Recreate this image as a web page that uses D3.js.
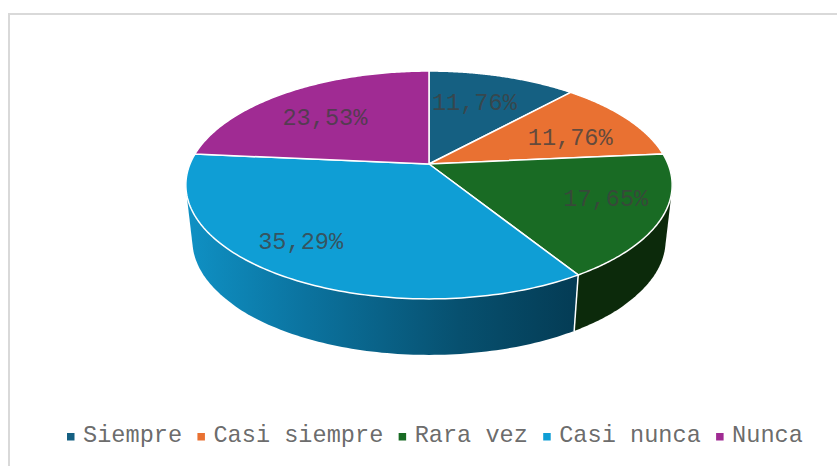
<!DOCTYPE html>
<html>
<head>
<meta charset="utf-8">
<script src="https://cdn.jsdelivr.net/npm/d3@7/dist/d3.min.js"></script>
<style>html,body{margin:0;padding:0;background:#fff;overflow:hidden}svg{display:block}</style>
</head>
<body>
<svg id="chart" width="837" height="466"></svg>
<script>
const categories = ["Siempre", "Casi siempre", "Rara vez", "Casi nunca", "Nunca"];
const values = [11.76, 11.76, 17.65, 35.29, 23.53];
const colors = ["#156082", "#E97132", "#196B24", "#0F9ED5", "#A02B93"];
const wallColors = [null, null, "#0C2A0B", "url(#wallBlue)", null];

const W = 837, H = 466;
const FONT = "'Liberation Mono','Courier New',monospace";
const svg = d3.select("#chart");

svg.append("rect").attr("x", 9).attr("y", 14).attr("width", W + 20).attr("height", H + 20)
  .attr("fill", "#fff").attr("stroke", "#D9D9D9").attr("stroke-width", 2);

const defs = svg.append("defs");
const grad = defs.append("linearGradient").attr("id", "wallBlue")
  .attr("gradientUnits", "userSpaceOnUse").attr("x1", 190).attr("x2", 575).attr("y1", 0).attr("y2", 0);
[[0, "#0F90C3"], [0.3, "#0B739F"], [0.7, "#07506F"], [1, "#043C55"]].forEach(([o, c]) =>
  grad.append("stop").attr("offset", o).attr("stop-color", c));

// Perspective disc projection
const cx = 429, cy = 164, C = 239, B = 79.9, k = 0.184, depth = 55.5, shrink = 0.973;
function project(a, r) {
  const u = r * Math.sin(a), v = -r * Math.cos(a), w = 1 - k * v;
  return [cx + C * u / w, (cy + B * v) / w];
}
function lower(p) { return [cx + (p[0] - cx) * shrink, p[1] + depth + (p[1] > 250 ? 0.5 : 0)]; }
const rim = (a0, a1) => d3.range(0, 121).map(i => project(a0 + (a1 - a0) * i / 120, 1));
const line = d3.line().curve(d3.curveLinear);

const arcs = d3.pie().sort(null).value(d => d)(values);

// Side walls: hull of the swept rim, the upper part is hidden by the top face
svg.append("g").selectAll("path").data(arcs.filter(d => wallColors[d.index])).join("path")
  .attr("d", d => {
    const top = rim(d.startAngle, d.endAngle);
    return line(d3.polygonHull(top.concat(top.map(lower)))) + "Z";
  })
  .attr("fill", d => wallColors[d.index]);

// White wall separator
const sep = project(arcs[2].endAngle, 1);
svg.append("path").attr("d", line([sep, lower(sep)]))
  .attr("stroke", "#fff").attr("stroke-width", 1.5).attr("fill", "none");

// Top face
svg.append("g").selectAll("path").data(arcs).join("path")
  .attr("d", d => line([[cx, cy]].concat(rim(d.startAngle, d.endAngle))) + "Z")
  .attr("fill", d => colors[d.index])
  .attr("stroke", "#fff").attr("stroke-width", 1.5).attr("stroke-linejoin", "round");

// Data labels
const fmt = d3.formatLocale({decimal: ",", thousands: ".", grouping: [3], currency: ["", ""]}).format(".2f");
const labelNudge = [[-3, -4.5], [15, 2], [37, 2], [-42, 13], [-12, 0]];
svg.append("g").selectAll("text").data(arcs).join("text")
  .attr("transform", d => {
    const p = project((d.startAngle + d.endAngle) / 2, 0.62), n = labelNudge[d.index];
    return `translate(${p[0] + n[0]},${p[1] + n[1] + 8})`;
  })
  .attr("text-anchor", "middle")
  .attr("font-family", FONT).attr("font-size", 23.6)
  .attr("fill", "#404040").attr("fill-opacity", 0.8)
  .text(d => fmt(d.data) + "%");

// Legend
const legend = svg.append("g");
let lx = 67;
categories.forEach((c, i) => {
  legend.append("rect").attr("x", lx).attr("y", 433).attr("width", 7.5).attr("height", 7.5).attr("fill", colors[i]);
  const t = legend.append("text").attr("x", lx + 16).attr("y", 442)
    .attr("font-family", FONT).attr("font-size", 23.6).attr("fill", "#595959").attr("fill-opacity", 0.9).text(c);
  lx += 16 + t.node().getComputedTextLength() + 15.3;
});
</script>
</body>
</html>
